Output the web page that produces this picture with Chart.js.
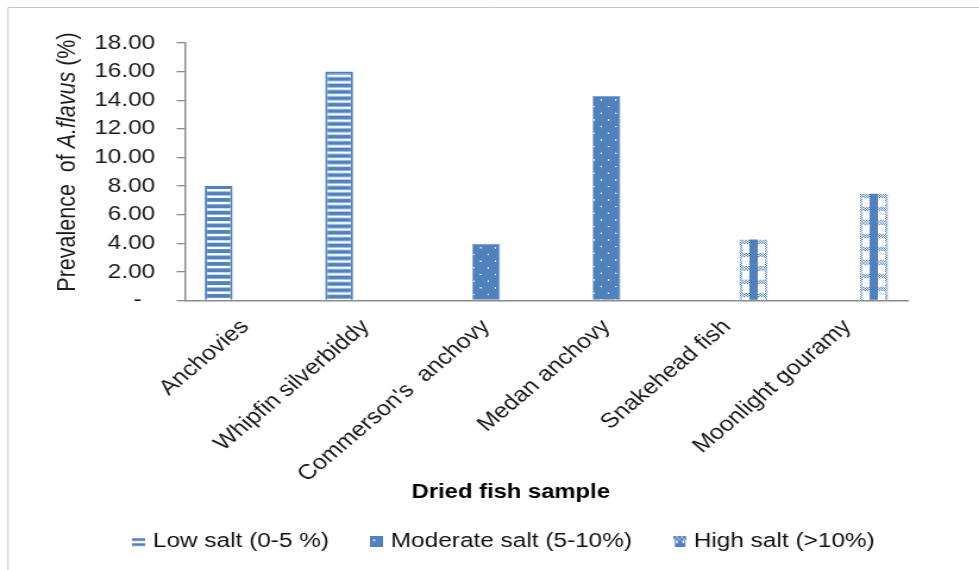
<!DOCTYPE html>
<html>
<head>
<meta charset="utf-8">
<script src="https://cdn.jsdelivr.net/npm/chart.js@4.4.1/dist/chart.umd.min.js"></script>
<style>
  html, body { margin: 0; padding: 0; background: #fff; overflow: hidden; }
  #wrap { width: 823px; height: 570px; transform: scale(1.18955, 1); transform-origin: 0 0; }
  canvas { display: block; }
</style>
</head>
<body>
<div id="wrap"><canvas id="c" width="823" height="570"></canvas></div>
<script>
// Prevalence of A. flavus per dried fish sample, grouped by salt level
const categories = [
  'Anchovies',
  'Whipfin silverbiddy',
  "Commerson's  anchovy",
  'Medan anchovy',
  'Snakehead fish',
  'Moonlight gouramy'
];
const lowSalt      = [8.0, 16.0, null, null, null, null];
const moderateSalt = [null, null, 3.96, 14.3, null, null];
const highSalt     = [null, null, null, null, 4.26, 7.47];
const seriesNames  = ['Low salt (0-5 %)', 'Moderate salt (5-10%)', 'High salt (>10%)'];
const yTickValues  = [0, 2, 4, 6, 8, 10, 12, 14, 16, 18];

const FONT = "'Liberation Sans', Arial, sans-serif";
const BLUE = '#4F81BD';
const canvas = document.getElementById('c');
const ctx0 = canvas.getContext('2d');

function tile(w, h, paint) {
  const t = document.createElement('canvas');
  t.width = w; t.height = h;
  paint(t.getContext('2d'), w, h);
  return t;
}

// horizontal stripes (low salt)
const stripeTile = tile(4, 32, (g, w, h) => {
  g.fillStyle = BLUE; g.fillRect(0, 0, w, h);
  g.fillStyle = '#ffffff';
  for (let k = 0; k < 5; k++) g.fillRect(0, 6.4 * k + 3, w, 2.5);
});
// white dots on blue (moderate salt), drawn at 3x and scaled down
const dotTile = tile(37, 40, (g, w, h) => {
  g.fillStyle = BLUE; g.fillRect(0, 0, w, h);
  g.fillStyle = 'rgba(255,255,255,0.9)';
  [[21.6, 12], [3.5, 32]].forEach(([x, y]) => {
    g.beginPath(); g.arc(x, y, 2.4, 0, Math.PI * 2); g.fill();
  });
});
// plaid (high salt), one tile spans the bar width
const plaidTile = tile(78, 40, (g, w, h) => {
  g.fillStyle = '#ffffff'; g.fillRect(0, 0, w, h);
  const checker = (x0, y0, x1, y1) => {
    for (let y = y0; y < y1; y += 3.3) {
      for (let x = x0; x < x1; x += 4) {
        const odd = (Math.round((x - x0) / 4) + Math.round((y - y0) / 3.3)) % 2;
        g.fillStyle = odd ? '#ffffff' : BLUE;
        g.fillRect(x, y, 4, 3.3);
      }
    }
  };
  checker(0, 0, w, 10);
  checker(0, 0, 8, h);
  checker(70, 0, w, h);
  g.fillStyle = BLUE;
  g.fillRect(28, 0, 22, h);
});

function patternsFor(values, kind) {
  return values.map(v => {
    if (v == null) return 'rgba(0,0,0,0)';
    const src = kind === 'stripes' ? stripeTile : kind === 'dots' ? dotTile : plaidTile;
    const p = ctx0.createPattern(src, 'repeat');
    p._kind = kind;
    return p;
  });
}

function icon(paint) { return tile(11, 11, paint); }
const legendIcons = [
  icon(g => { g.fillStyle = BLUE; g.fillRect(0, 2, 11, 2.7); g.fillRect(0, 7, 11, 2.7); }),
  icon(g => {
    g.fillStyle = BLUE; g.fillRect(0, 0, 11, 11);
    g.fillStyle = '#ffffff'; g.beginPath(); g.arc(3, 4, 0.9, 0, Math.PI * 2); g.fill();
  }),
  icon(g => {
    for (let x = 0; x < 11; x += 2) {
      for (let y = 0; y < 4; y += 2) {
        g.fillStyle = ((x + y) / 2) % 2 ? '#9fb9dc' : BLUE;
        g.fillRect(x, y, 2, 2);
      }
    }
    g.fillStyle = BLUE; g.fillRect(1, 4, 9, 7);
    g.fillStyle = '#ffffff'; g.fillRect(2, 4, 1.5, 3); g.fillRect(7.5, 4, 1.5, 3);
  })
];
const legendTexts = [seriesNames[0] + '   ', seriesNames[1] + '   ', seriesNames[2]];

const decor = {
  id: 'decor',
  afterLayout(chart) {
    // legend row is centred on the span from the plot's left offset to its right edge
    if (chart.legend) chart.legend.left = 88;
  },
  beforeDatasetsDraw(chart) {
    chart.data.datasets.forEach((ds, i) => {
      const meta = chart.getDatasetMeta(i);
      meta.data.forEach((bar, j) => {
        const p = ds.backgroundColor[j];
        if (!p || typeof p === 'string' || ds.data[j] == null) return;
        const left = bar.x - bar.width / 2;
        let m = new DOMMatrix().translate(left, bar.y);
        if (p._kind === 'dots') m = m.scale(1 / 3, 1 / 3);
        if (p._kind === 'plaid') m = m.scale(bar.width / 78, 1 / 3);
        p.setTransform(m);
      });
    });
  },
  afterDraw(chart) {
    const g = chart.ctx;
    g.save();
    // outer frame
    g.strokeStyle = '#c4c4c4'; g.lineWidth = 1;
    g.beginPath(); g.moveTo(6.7, 570); g.lineTo(6.7, 7.5); g.lineTo(823, 7.5); g.stroke();

    // y-axis title with italic species name
    g.fillStyle = '#1a1a1a';
    g.textBaseline = 'middle';
    g.textAlign = 'left';
    const parts = [
      ['Prevalence  of ', '21.5px ' + FONT],
      ['A.flavus', 'italic 21.5px ' + FONT],
      [' (%)', '21.5px ' + FONT]
    ];
    let total = 0;
    parts.forEach(([t, f]) => { g.font = f; total += g.measureText(t).width; });
    g.translate(57, 162);
    g.rotate(-Math.PI / 2);
    let x = -total / 2;
    parts.forEach(([t, f]) => { g.font = f; g.fillText(t, x, 0); x += g.measureText(t).width; });
    g.restore();

    // x-axis title
    g.save();
    g.fillStyle = '#000';
    g.font = 'bold 20px ' + FONT;
    g.textAlign = 'center';
    g.textBaseline = 'middle';
    g.fillText('Dried fish sample', 429.4, 492);
    g.restore();
  }
};

new Chart(canvas, {
  type: 'bar',
  data: {
    labels: categories,
    datasets: [
      { label: seriesNames[0], data: lowSalt, backgroundColor: patternsFor(lowSalt, 'stripes'),
        borderColor: BLUE, borderWidth: 2 },
      { label: seriesNames[1], data: moderateSalt, backgroundColor: patternsFor(moderateSalt, 'dots'),
        borderColor: '#6f96c9', borderWidth: 0.8 },
      { label: seriesNames[2], data: highSalt, backgroundColor: patternsFor(highSalt, 'plaid'),
        borderWidth: 0 }
    ]
  },
  options: {
    responsive: false,
    animation: false,
    devicePixelRatio: 1,
    datasets: { bar: { barPercentage: 1.05, categoryPercentage: 0.66 } },
    layout: { padding: { left: 0, right: 60, top: 43, bottom: 8 } },
    plugins: {
      tooltip: { enabled: false },
      legend: {
        position: 'bottom',
        labels: {
          usePointStyle: true,
          pointStyleWidth: 2.6,
          padding: 22,
          color: '#111',
          font: { family: FONT, size: 20.5 },
          generateLabels: (chart) => chart.data.datasets.map((ds, i) => ({
            text: legendTexts[i],
            fillStyle: BLUE,
            strokeStyle: 'rgba(0,0,0,0)',
            lineWidth: 0,
            pointStyle: legendIcons[i],
            hidden: false,
            datasetIndex: i,
            fontColor: '#111'
          }))
        }
      }
    },
    scales: {
      x: {
        grid: { display: false },
        border: { display: true, color: '#8c8c8c', width: 1.5 },
        ticks: {
          color: '#1a1a1a',
          font: { family: FONT, size: 21 },
          minRotation: 45, maxRotation: 45,
          autoSkip: false,
          padding: 6
        },
        afterFit(s) { s.height = 209; }
      },
      y: {
        min: 0, max: 18,
        grid: { drawOnChartArea: false, drawTicks: true, tickLength: 7, color: '#8c8c8c', lineWidth: 1.3 },
        border: { display: true, color: '#8c8c8c', width: 1.5 },
        ticks: {
          color: '#1a1a1a',
          font: { family: FONT, size: 20.5 },
          padding: 18,
          callback: (v) => v === 0 ? '-  ' : Number(v).toFixed(2)
        },
        afterBuildTicks(s) { s.ticks = yTickValues.map(v => ({ value: v })); },
        afterFit(s) { s.width = 155.5; }
      }
    }
  },
  plugins: [decor]
});
</script>
</body>
</html>
